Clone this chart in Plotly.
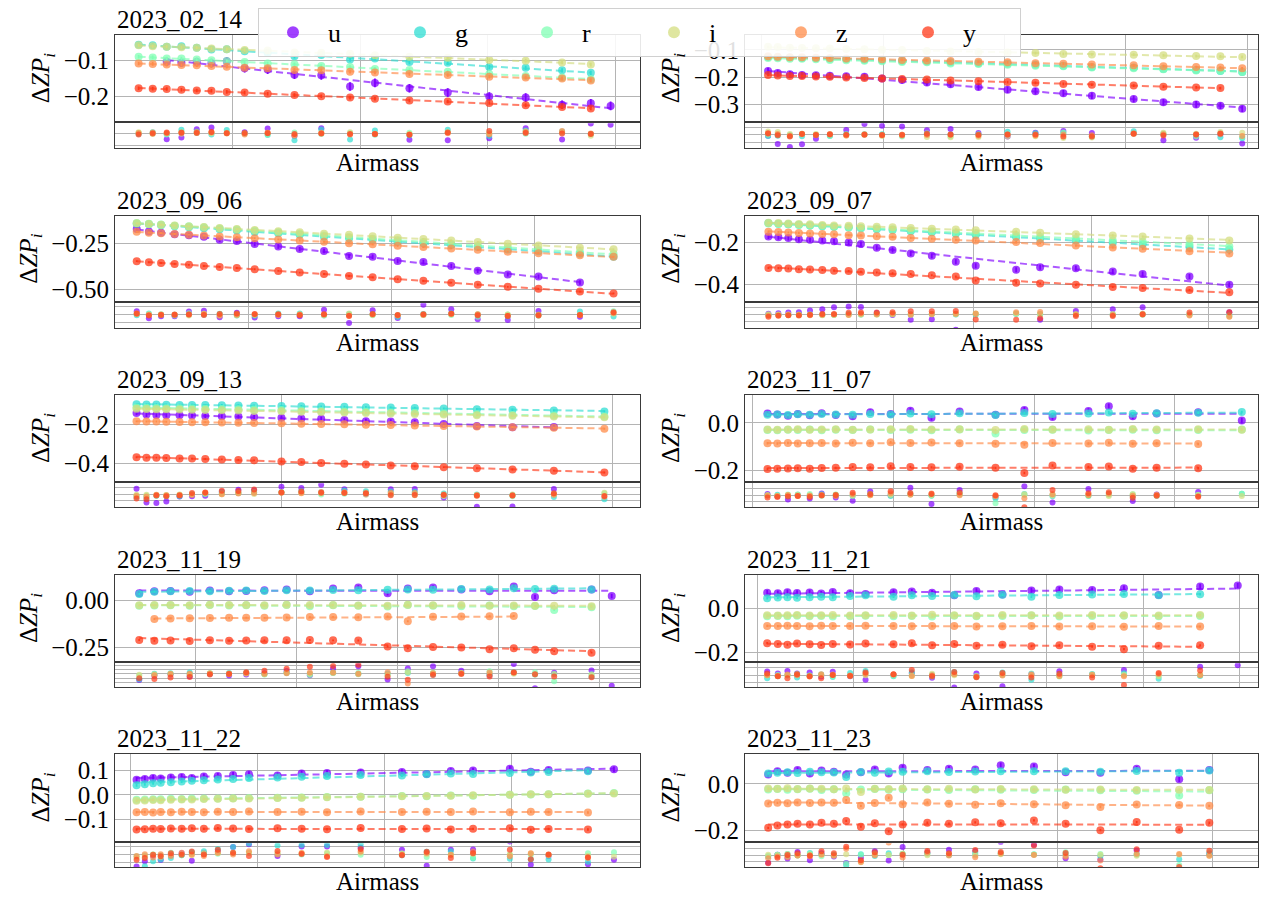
import numpy as np
import plotly.graph_objects as go

W, H = 1264, 897
FILTERS = ["u", "g", "r", "i", "z", "y"]
COLORS = {"u": "#8000ff", "g": "#2fded3", "r": "#80ffb4", "i": "#d4dd80", "z": "#ff8c4a", "y": "#ff3a1a"}
ERR = {"u": 0.012, "g": 0.006, "r": 0.005, "i": 0.005, "z": 0.005, "y": 0.005}

# ---------------- data (airmass, delta ZP per filter) ----------------
AM_0214 = [1.053, 1.075, 1.097, 1.120, 1.144, 1.167, 1.191, 1.219, 1.255, 1.297, 1.339, 1.384, 1.423, 1.477, 1.537, 1.602, 1.659, 1.716, 1.761, 1.792]
ZP_0214 = {
    "u": [None, None, -0.103, -0.106, -0.104, -0.107, -0.102, -0.121, -0.125, -0.139, -0.141, -0.172, -0.162, -0.177, -0.189, -0.200, -0.203, -0.223, -0.219, -0.226],
    "g": [-0.056, -0.057, -0.061, -0.060, -0.064, -0.069, -0.068, -0.074, -0.079, -0.088, -0.084, -0.097, -0.094, -0.104, -0.106, -0.118, -0.120, -0.127, -0.134, None],
    "r": [-0.089, -0.091, -0.094, -0.094, -0.097, -0.099, -0.101, -0.104, -0.108, -0.110, -0.115, -0.118, -0.123, -0.126, -0.131, -0.137, -0.143, -0.147, -0.152, None],
    "i": [-0.057, -0.060, -0.061, -0.063, -0.064, -0.066, -0.068, -0.070, -0.072, -0.077, -0.078, -0.081, -0.085, -0.089, -0.092, -0.098, -0.100, -0.105, -0.111, None],
    "z": [-0.108, -0.109, -0.111, -0.112, -0.113, -0.115, -0.117, -0.120, -0.121, -0.126, -0.127, -0.131, -0.133, -0.137, -0.140, -0.145, -0.147, -0.150, -0.155, None],
    "y": [-0.177, -0.178, -0.179, -0.181, -0.183, -0.184, -0.187, -0.189, -0.192, -0.196, -0.199, -0.203, -0.206, -0.211, -0.214, -0.218, -0.224, -0.229, -0.233, None],
}

AM_R1B = [1.110, 1.126, 1.146, 1.166, 1.189, 1.212, 1.239, 1.269, 1.298, 1.331, 1.372, 1.411, 1.457, 1.505, 1.551, 1.597, 1.644, 1.713, 1.762, 1.816, 1.856, 1.892]
ZP_R1B = {
    "u": [-0.178, -0.185, -0.190, -0.192, -0.193, -0.195, -0.197, -0.199, -0.205, -0.211, -0.220, -0.226, -0.236, -0.246, -0.252, -0.259, -0.268, -0.280, -0.292, -0.300, -0.305, -0.316],
    "g": [-0.126, -0.127, -0.128, -0.130, -0.131, -0.133, -0.134, -0.136, -0.138, -0.141, -0.143, -0.146, -0.149, -0.151, -0.155, -0.158, -0.163, -0.165, -0.170, -0.174, -0.178, -0.181],
    "r": [-0.130, -0.131, -0.133, -0.133, -0.135, -0.137, -0.138, -0.140, -0.142, -0.145, -0.146, -0.150, -0.152, -0.155, -0.158, -0.160, -0.165, -0.168, -0.171, -0.176, -0.177, -0.181],
    "i": [-0.089, -0.090, -0.092, -0.093, -0.094, -0.095, -0.097, -0.098, -0.100, -0.101, -0.104, -0.106, -0.108, -0.110, -0.112, -0.115, -0.117, -0.118, -0.120, -0.123, -0.124, -0.126],
    "z": [-0.124, -0.125, -0.127, -0.127, -0.129, -0.130, -0.132, -0.133, -0.135, -0.137, -0.139, -0.141, -0.144, -0.146, -0.149, -0.151, -0.154, -0.157, -0.160, -0.163, -0.165, -0.168],
    "y": [-0.192, -0.194, -0.196, -0.196, -0.198, -0.199, -0.201, -0.203, -0.205, -0.207, -0.209, -0.212, -0.215, -0.218, -0.221, -0.225, -0.228, -0.231, -0.235, -0.238, -0.240, None],
}

AM_0906 = [1.043, 1.060, 1.077, 1.096, 1.116, 1.137, 1.159, 1.183, 1.208, 1.241, 1.271, 1.305, 1.340, 1.373, 1.408, 1.444, 1.483, 1.520, 1.562, 1.605, 1.663, 1.710]
ZP_0906 = {
    "u": [-0.170, -0.184, -0.190, -0.199, -0.204, -0.213, -0.229, -0.236, -0.252, -0.266, -0.280, -0.290, -0.318, -0.322, -0.345, -0.350, -0.372, -0.398, -0.418, -0.430, -0.462, None],
    "g": [-0.141, -0.144, -0.150, -0.155, -0.160, -0.166, -0.171, -0.179, -0.186, -0.193, -0.201, -0.212, -0.220, -0.229, -0.241, -0.248, -0.258, -0.269, -0.282, -0.292, -0.305, -0.322],
    "r": [-0.137, -0.142, -0.146, -0.152, -0.155, -0.161, -0.168, -0.173, -0.180, -0.188, -0.196, -0.205, -0.214, -0.223, -0.232, -0.241, -0.251, -0.262, -0.271, -0.283, -0.297, -0.306],
    "i": [-0.139, -0.143, -0.147, -0.151, -0.156, -0.159, -0.164, -0.170, -0.175, -0.182, -0.188, -0.196, -0.202, -0.210, -0.218, -0.225, -0.233, -0.241, -0.250, -0.260, -0.272, -0.281],
    "z": [-0.185, -0.190, -0.193, -0.197, -0.201, -0.205, -0.211, -0.215, -0.220, -0.227, -0.233, -0.240, -0.248, -0.254, -0.262, -0.269, -0.276, -0.284, -0.294, -0.302, -0.314, -0.322],
    "y": [-0.346, -0.352, -0.356, -0.361, -0.366, -0.372, -0.377, -0.383, -0.390, -0.399, -0.408, -0.416, -0.427, -0.434, -0.444, -0.453, -0.463, -0.474, -0.486, -0.497, -0.512, -0.522],
}

AM_0907 = [1.049, 1.066, 1.083, 1.101, 1.120, 1.141, 1.161, 1.186, 1.207, 1.234, 1.261, 1.292, 1.328, 1.369, 1.403, 1.472, 1.513, 1.574, 1.637, 1.688, 1.768, 1.836]
ZP_0907 = {
    "u": [-0.170, -0.174, -0.178, -0.183, -0.186, -0.190, -0.193, -0.199, -0.206, -0.224, -0.235, -0.252, -0.262, -0.291, -0.310, -0.330, -0.318, -0.322, -0.338, -0.350, -0.362, -0.402],
    "g": [-0.106, -0.109, -0.112, -0.114, -0.117, -0.121, -0.124, -0.127, -0.131, -0.135, -0.139, -0.145, -0.150, -0.157, -0.163, -0.173, -0.180, -0.190, -0.200, -0.208, -0.221, -0.233],
    "r": [-0.108, -0.110, -0.112, -0.115, -0.117, -0.120, -0.123, -0.126, -0.129, -0.132, -0.136, -0.140, -0.145, -0.151, -0.155, -0.164, -0.171, -0.180, -0.189, -0.196, -0.207, -0.218],
    "i": [-0.104, -0.106, -0.108, -0.110, -0.112, -0.115, -0.117, -0.119, -0.121, -0.124, -0.126, -0.130, -0.133, -0.137, -0.140, -0.147, -0.152, -0.159, -0.165, -0.170, -0.180, -0.190],
    "z": [-0.147, -0.149, -0.151, -0.153, -0.156, -0.158, -0.160, -0.164, -0.165, -0.169, -0.172, -0.177, -0.181, -0.186, -0.190, -0.197, -0.202, -0.214, -0.223, -0.229, -0.241, -0.252],
    "y": [-0.321, -0.322, -0.324, -0.327, -0.329, -0.331, -0.334, -0.336, -0.339, -0.343, -0.347, -0.350, -0.356, -0.362, -0.381, -0.392, -0.396, -0.402, -0.412, -0.417, -0.427, -0.437],
}

AM_0913 = [1.025, 1.037, 1.049, 1.061, 1.077, 1.092, 1.108, 1.128, 1.148, 1.167, 1.200, 1.224, 1.248, 1.276, 1.302, 1.332, 1.361, 1.396, 1.436, 1.479, 1.529, 1.590]
ZP_0913 = {
    "u": [-0.140, -0.148, -0.150, -0.151, -0.151, -0.153, -0.155, -0.156, -0.158, -0.161, -0.164, -0.168, -0.170, -0.176, -0.182, -0.184, -0.188, -0.197, -0.207, -0.213, -0.212, None],
    "g": [-0.095, -0.096, -0.096, -0.097, -0.098, -0.098, -0.099, -0.100, -0.101, -0.102, -0.104, -0.105, -0.107, -0.108, -0.110, -0.112, -0.114, -0.117, -0.120, -0.123, -0.127, -0.132],
    "r": [-0.112, -0.113, -0.114, -0.115, -0.116, -0.117, -0.118, -0.119, -0.121, -0.122, -0.125, -0.127, -0.130, -0.132, -0.134, -0.137, -0.139, -0.143, -0.146, -0.150, -0.153, -0.158],
    "i": [-0.118, -0.119, -0.120, -0.121, -0.122, -0.123, -0.124, -0.126, -0.127, -0.129, -0.131, -0.133, -0.135, -0.137, -0.140, -0.142, -0.145, -0.148, -0.151, -0.154, -0.158, -0.162],
    "z": [-0.183, -0.184, -0.184, -0.185, -0.186, -0.187, -0.187, -0.189, -0.190, -0.191, -0.193, -0.195, -0.196, -0.198, -0.200, -0.202, -0.204, -0.207, -0.210, -0.213, -0.216, -0.221],
    "y": [-0.368, -0.370, -0.370, -0.372, -0.374, -0.375, -0.377, -0.379, -0.382, -0.384, -0.390, -0.393, -0.397, -0.401, -0.405, -0.410, -0.414, -0.419, -0.425, -0.431, -0.437, -0.447],
}

AM_1107 = [1.021, 1.035, 1.050, 1.064, 1.081, 1.098, 1.118, 1.142, 1.167, 1.196, 1.224, 1.254, 1.294, 1.345, 1.386, 1.426, 1.477, 1.506, 1.540, 1.574, 1.633, 1.695]
ZP_1107 = {
    "u": [0.040, 0.036, 0.030, 0.038, 0.032, 0.041, 0.034, 0.028, 0.045, 0.038, 0.052, 0.022, 0.048, 0.035, 0.055, 0.025, 0.050, 0.070, 0.028, 0.040, 0.045, 0.010],
    "g": [0.035, 0.036, 0.034, 0.037, 0.035, 0.038, 0.036, 0.035, 0.038, 0.036, 0.040, 0.037, 0.041, 0.033, 0.042, 0.038, 0.040, 0.044, 0.039, 0.041, 0.043, 0.046],
    "r": [-0.030, -0.031, -0.029, -0.030, -0.028, -0.031, -0.029, -0.030, -0.028, -0.030, -0.029, -0.031, -0.028, -0.045, -0.030, -0.029, -0.032, -0.030, -0.029, -0.031, -0.030, -0.028],
    "i": [-0.028, -0.029, -0.028, -0.027, -0.029, -0.028, -0.027, -0.029, -0.028, -0.027, -0.026, -0.028, -0.027, -0.030, -0.026, -0.028, -0.027, -0.029, -0.026, -0.028, -0.027, -0.029],
    "z": [-0.086, -0.087, -0.085, -0.087, -0.086, -0.085, -0.087, -0.084, -0.086, -0.082, -0.085, -0.083, -0.086, -0.088, -0.092, -0.085, -0.087, -0.084, -0.088, -0.086, -0.089, None],
    "y": [-0.195, -0.194, -0.193, -0.192, -0.194, -0.191, -0.190, -0.186, -0.188, -0.183, -0.186, -0.188, -0.185, -0.190, -0.212, -0.180, -0.186, -0.184, -0.194, -0.190, -0.192, None],
}

AM_1119 = [1.044, 1.059, 1.075, 1.094, 1.114, 1.133, 1.150, 1.168, 1.190, 1.213, 1.236, 1.261, 1.290, 1.310, 1.335, 1.363, 1.391, 1.415, 1.436, 1.455, 1.492, 1.512]
ZP_1119 = {
    "u": [0.040, 0.050, 0.052, 0.048, 0.054, 0.050, 0.052, 0.055, 0.060, 0.050, 0.065, 0.070, 0.040, 0.065, 0.070, 0.060, 0.050, 0.075, 0.020, 0.055, 0.060, 0.025],
    "g": [0.035, 0.048, 0.050, 0.052, 0.050, 0.053, 0.054, 0.052, 0.055, 0.054, 0.057, 0.056, 0.058, 0.060, 0.058, 0.062, 0.060, 0.066, 0.062, 0.064, 0.060, None],
    "r": [-0.028, -0.026, -0.025, -0.027, -0.024, -0.026, -0.025, -0.028, -0.024, -0.030, -0.025, -0.027, -0.032, -0.024, -0.028, -0.030, -0.026, -0.030, -0.029, -0.050, -0.035, None],
    "i": [-0.025, -0.024, -0.023, -0.025, -0.022, -0.024, -0.023, -0.025, -0.022, -0.024, -0.023, -0.026, -0.028, -0.022, -0.025, -0.024, -0.027, -0.026, -0.028, -0.027, -0.030, None],
    "z": [None, -0.098, -0.095, -0.094, -0.093, -0.092, -0.091, -0.092, -0.090, -0.088, -0.087, -0.089, -0.085, -0.110, -0.086, -0.085, -0.083, -0.082, None, None, None, None],
    "y": [-0.210, -0.214, -0.213, -0.215, -0.212, -0.214, -0.213, -0.212, -0.211, -0.210, -0.212, -0.213, -0.245, -0.255, -0.248, -0.250, -0.260, -0.255, -0.262, -0.270, -0.278, None],
}

AM_1121 = [1.010, 1.021, 1.031, 1.041, 1.054, 1.066, 1.078, 1.096, 1.112, 1.141, 1.160, 1.181, 1.204, 1.227, 1.254, 1.284, 1.313, 1.347, 1.380, 1.416, 1.459, 1.498]
ZP_1121 = {
    "u": [0.070, 0.068, 0.072, 0.069, 0.071, 0.066, 0.073, 0.068, 0.064, 0.072, 0.075, 0.070, 0.058, 0.078, 0.062, 0.080, 0.085, 0.082, 0.090, 0.060, 0.098, 0.102],
    "g": [0.045, 0.048, 0.050, 0.047, 0.050, 0.052, 0.049, 0.055, 0.058, 0.052, 0.058, 0.055, 0.060, 0.054, 0.061, 0.052, 0.060, 0.062, 0.064, 0.058, 0.063, None],
    "r": [-0.036, -0.035, -0.036, -0.034, -0.036, -0.035, -0.037, -0.036, -0.034, -0.036, -0.035, -0.037, -0.034, -0.036, -0.035, -0.033, -0.037, -0.035, -0.034, -0.036, -0.035, None],
    "i": [-0.032, -0.033, -0.032, -0.031, -0.033, -0.032, -0.031, -0.033, -0.032, -0.031, -0.033, -0.030, -0.032, -0.034, -0.031, -0.032, -0.033, -0.031, -0.032, -0.033, -0.031, None],
    "z": [-0.080, -0.081, -0.079, -0.080, -0.082, -0.079, -0.080, -0.081, -0.079, -0.080, -0.082, -0.081, -0.080, -0.083, -0.082, -0.081, -0.083, -0.082, -0.084, -0.081, -0.083, None],
    "y": [-0.158, -0.162, -0.165, -0.160, -0.163, -0.166, -0.162, -0.164, -0.160, -0.163, -0.158, -0.167, -0.162, -0.170, -0.165, -0.172, -0.168, -0.174, -0.185, -0.170, -0.168, None],
}

AM_1122 = [1.009, 1.022, 1.035, 1.047, 1.063, 1.080, 1.096, 1.115, 1.137, 1.161, 1.186, 1.231, 1.269, 1.309, 1.362, 1.427, 1.466, 1.504, 1.539, 1.597, 1.630, 1.658, 1.720, 1.761]
ZP_1122 = {
    "u": [0.062, 0.066, 0.070, 0.068, 0.072, 0.074, 0.070, 0.076, 0.078, 0.082, 0.085, 0.080, 0.088, 0.090, 0.092, 0.094, 0.086, 0.098, 0.100, 0.108, 0.095, 0.102, 0.100, 0.105],
    "g": [0.040, 0.044, 0.048, 0.050, 0.052, 0.055, 0.058, 0.060, 0.063, 0.066, 0.070, 0.072, 0.075, 0.078, 0.082, 0.080, 0.085, 0.088, 0.086, 0.090, 0.092, 0.094, 0.097, None],
    "r": [-0.020, -0.019, -0.018, -0.018, -0.016, -0.017, -0.015, -0.015, -0.014, -0.013, -0.012, -0.011, -0.010, -0.008, -0.007, -0.004, -0.005, -0.002, -0.003, 0.001, 0.002, 0.003, 0.006, 0.008],
    "i": [-0.024, -0.023, -0.021, -0.022, -0.020, -0.019, -0.019, -0.017, -0.016, -0.015, -0.014, -0.012, -0.011, -0.009, -0.007, -0.005, -0.004, -0.003, -0.001, 0.001, 0.003, 0.003, 0.005, 0.006],
    "z": [-0.071, -0.070, -0.072, -0.070, -0.071, -0.069, -0.070, -0.071, -0.069, -0.070, -0.068, -0.070, -0.069, -0.071, -0.068, -0.070, -0.069, -0.070, -0.068, -0.071, -0.069, -0.070, -0.072, None],
    "y": [-0.142, -0.141, -0.139, -0.140, -0.138, -0.139, -0.137, -0.139, -0.136, -0.138, -0.140, -0.137, -0.139, -0.141, -0.136, -0.140, -0.138, -0.142, -0.139, -0.137, -0.143, -0.140, -0.142, None],
}

AM_1123 = [1.025, 1.037, 1.050, 1.063, 1.079, 1.094, 1.110, 1.126, 1.145, 1.163, 1.181, 1.199, 1.231, 1.259, 1.293, 1.326, 1.369, 1.410, 1.455, 1.502, 1.557, 1.596]
ZP_1123 = {
    "u": [0.040, 0.055, 0.048, 0.060, 0.045, 0.058, 0.052, 0.040, 0.050, 0.062, 0.045, 0.070, 0.060, 0.065, 0.062, 0.080, 0.075, 0.050, 0.048, 0.065, 0.020, 0.060],
    "g": [0.045, 0.048, 0.050, 0.047, 0.052, 0.050, 0.049, 0.030, 0.051, 0.048, 0.053, 0.052, 0.054, 0.051, 0.053, 0.055, 0.054, 0.055, 0.052, 0.056, 0.048, 0.058],
    "r": [-0.024, -0.022, -0.025, -0.023, -0.021, -0.026, -0.023, -0.040, -0.024, -0.022, -0.025, -0.023, -0.024, -0.026, -0.023, -0.025, -0.027, -0.024, -0.028, -0.030, -0.050, -0.028],
    "i": [-0.020, -0.021, -0.019, -0.022, -0.020, -0.021, -0.023, -0.020, -0.035, -0.021, -0.022, -0.020, -0.023, -0.021, -0.024, -0.022, -0.023, -0.025, -0.024, -0.026, -0.025, -0.027],
    "z": [-0.085, -0.082, -0.084, -0.081, -0.083, -0.080, -0.082, -0.070, -0.095, -0.083, -0.060, -0.088, -0.080, -0.086, -0.090, -0.084, -0.088, -0.092, -0.100, -0.089, -0.091, -0.095],
    "y": [-0.190, -0.180, -0.175, -0.172, -0.176, -0.168, -0.172, -0.160, -0.185, -0.170, -0.205, -0.175, -0.168, -0.172, -0.166, -0.170, -0.158, -0.172, -0.200, -0.165, -0.198, -0.168],
}

TITLES = ["2023_02_14", "", "2023_09_06", "2023_09_07", "2023_09_13", "2023_11_07", "2023_11_19", "2023_11_21", "2023_11_22", "2023_11_23"]
AIRMASS = [AM_0214, AM_R1B, AM_0906, AM_0907, AM_0913, AM_1107, AM_1119, AM_1121, AM_1122, AM_1123]
ZP = [ZP_0214, ZP_R1B, ZP_0906, ZP_0907, ZP_0913, ZP_1107, ZP_1119, ZP_1121, ZP_1122, ZP_1123]

# axis settings per panel
X_RANGE = [[1.016, 1.838], [1.072, 1.918], [1.0126, 1.747], [1.009, 1.885], [0.999, 1.633],
           [0.989, 1.718], [1.020, 1.540], [0.987, 1.519], [0.975, 1.802], [0.995, 1.659]]
X_TICKS = [[1.2, 1.4, 1.6, 1.8], [1.1, 1.3, 1.5, 1.7, 1.9], [1.2, 1.4, 1.6], [1.2, 1.4, 1.6, 1.8], [1.2, 1.4, 1.6],
           [1.0, 1.2, 1.4, 1.6], [1.1, 1.2, 1.3, 1.4, 1.5], [1.0, 1.1, 1.2, 1.3, 1.4, 1.5], [1.0, 1.2, 1.4, 1.6], [1.2, 1.4, 1.6]]
Y_RANGE = [[-0.269, -0.028], [-0.362, -0.045], [-0.565, -0.098], [-0.481, -0.071], [-0.492, -0.046],
           [-0.247, 0.119], [-0.324, 0.138], [-0.240, 0.151], [-0.190, 0.169], [-0.248, 0.130]]
Y_DTICK = [0.1, 0.1, 0.25, 0.2, 0.2, 0.2, 0.25, 0.2, 0.1, 0.2]
Y_FMT = [".1f", ".1f", ".2f", ".1f", ".1f", ".1f", ".2f", ".1f", ".1f", ".1f"]
RES_RANGE = [[-0.012, 0.008], [-0.007, 0.006], [-0.012, 0.010], [-0.022, 0.018], [-0.006, 0.005],
             [-0.022, 0.022], [-0.03, 0.024], [-0.016, 0.016], [-0.008, 0.007], [-0.022, 0.022]]
RES_DTICK = [0.01, 0.004, 0.007, 0.012, 0.003, 0.012, 0.01, 0.01, 0.005, 0.012]

# ---------------- layout geometry (pixels) ----------------
COL_X = [(115, 640), (745, 1258)]
ROWS = [(35, 122, 124, 149), (217, 303, 305, 330), (397, 484, 486, 510), (578, 665, 667, 691), (758, 846, 848, 872)]

FONT = "Liberation Serif, Times New Roman, serif"
GRID = "#b4b4b4"
SPINE = "#3a3a3a"


def ydom(top, bottom):
    return [1 - bottom / H, 1 - top / H]


fig = go.Figure()
layout = {}
annotations = []

for p in range(10):
    row, col = divmod(p, 2)
    x0, x1 = COL_X[col]
    mt, mb, rt, rb = ROWS[row]
    ia, ir = 2 * p + 1, 2 * p + 2
    xa_m, ya_m = f"x{ia}", f"y{ia}"
    xa_r, ya_r = f"x{ir}", f"y{ir}"
    xdom = [x0 / W, x1 / W]

    am = np.array(AIRMASS[p], dtype=float)
    for f in FILTERS:
        vals = np.array([np.nan if v is None else v for v in ZP[p][f]], dtype=float)
        ok = ~np.isnan(vals)
        c = COLORS[f]
        coef = np.polyfit(am[ok], vals[ok], 1)
        fitx = np.array([am[ok].min(), am[ok].max()])
        resid = vals - np.polyval(coef, am)
        fig.add_trace(go.Scatter(
            x=am[ok], y=vals[ok], mode="markers", name=f, legendgroup=f,
            showlegend=(p == 0), xaxis=xa_m, yaxis=ya_m,
            marker=dict(color=c, size=8, opacity=0.75),
            error_y=dict(type="constant", value=ERR[f], color=c, thickness=1.8, width=0),
        ))
        fig.add_trace(go.Scatter(
            x=fitx, y=np.polyval(coef, fitx), mode="lines", showlegend=False, hoverinfo="skip",
            xaxis=xa_m, yaxis=ya_m, opacity=0.65,
            line=dict(color=c, width=2, dash="7px,4px"),
        ))
        fig.add_trace(go.Scatter(
            x=am[ok], y=resid[ok], mode="markers", showlegend=False,
            xaxis=xa_r, yaxis=ya_r,
            marker=dict(color=c, size=6, opacity=0.7),
        ))

    common_x = dict(range=X_RANGE[p], tickvals=X_TICKS[p], showticklabels=False, ticks="",
                    showgrid=True, gridcolor=GRID, gridwidth=1, zeroline=False,
                    showline=True, linecolor=SPINE, linewidth=1, mirror=True, domain=xdom)
    layout[f"xaxis{ia}"] = dict(common_x, anchor=ya_m)
    layout[f"xaxis{ir}"] = dict(common_x, anchor=ya_r)
    layout[f"yaxis{ia}"] = dict(
        range=Y_RANGE[p], dtick=Y_DTICK[p], tick0=0, tickformat=Y_FMT[p], domain=ydom(mt, mb), anchor=xa_m,
        showgrid=True, gridcolor=GRID, gridwidth=1, zeroline=False, ticks="",
        showline=True, linecolor=SPINE, linewidth=1, mirror=True,
        tickfont=dict(family=FONT, size=25, color="black"),
        title=dict(text="Δ<i>ZP</i><sub><i>i</i></sub>", font=dict(family=FONT, size=25, color="black"), standoff=6),
    )
    layout[f"yaxis{ir}"] = dict(
        range=RES_RANGE[p], dtick=RES_DTICK[p], tick0=0, domain=ydom(rt, rb), anchor=xa_r,
        showticklabels=False, ticks="", showgrid=True, gridcolor=GRID, gridwidth=1, zeroline=False,
        showline=True, linecolor=SPINE, linewidth=1, mirror=True,
    )
    if TITLES[p]:
        annotations.append(dict(text=TITLES[p], x=x0 / W, y=1 - (mt - 15) / H, xref="paper", yref="paper",
                                xanchor="left", yanchor="middle", showarrow=False,
                                font=dict(family=FONT, size=25, color="black")))
    annotations.append(dict(text="Airmass", x=(x0 + x1) / 2 / W, y=1 - (rb + 14) / H, xref="paper", yref="paper",
                            xanchor="center", yanchor="middle", showarrow=False,
                            font=dict(family=FONT, size=25, color="black")))

fig.update_layout(
    width=W, height=H, margin=dict(l=0, r=0, t=0, b=0, pad=0),
    paper_bgcolor="white", plot_bgcolor="white",
    annotations=annotations,
    legend=dict(orientation="h", x=258 / W, y=1 - 8 / H, xanchor="left", yanchor="top",
                bgcolor="rgba(255,255,255,0.88)", bordercolor="#d0d0d0", borderwidth=1,
                itemwidth=60, entrywidth=52, entrywidthmode="pixels",
                font=dict(family=FONT, size=26, color="black"), itemsizing="constant"),
    **layout,
)

fig.write_html("out.html")
